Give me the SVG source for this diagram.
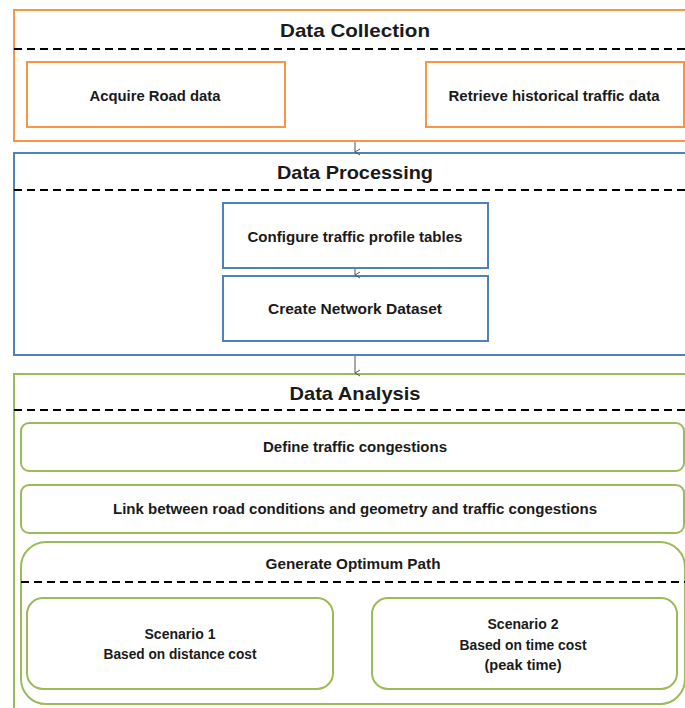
<svg xmlns="http://www.w3.org/2000/svg" width="685" height="708" viewBox="0 0 685 708">
<style>
text{font-family:"Liberation Sans",Arial,sans-serif;font-weight:bold;fill:#1a1a1a;text-anchor:middle}
.t{font-size:19px}
.s{font-size:14px}
.or{fill:#fff;stroke:#F79646;stroke-width:2}
.bl{fill:#fff;stroke:#4F81BD;stroke-width:2}
.gr{fill:#fff;stroke:#9BBB59;stroke-width:2}
.dash{stroke:#000;stroke-width:2;stroke-dasharray:8 5;fill:none}
.arr{stroke:#555;stroke-width:1;fill:none}
</style>
<defs>
<marker id="ah" markerWidth="8" markerHeight="8" refX="4" refY="6" orient="auto" markerUnits="userSpaceOnUse">
<path d="M1,1 L4,6 L7,1" fill="none" stroke="#555" stroke-width="1"/>
</marker>
</defs>
<rect width="685" height="708" fill="#fff"/>
<g id="data-collection">
<rect class="or" x="14" y="10" width="690" height="131"/>
<text class="t" x="355" y="37" textLength="150" lengthAdjust="spacingAndGlyphs">Data Collection</text>
<line class="dash" x1="14" y1="49" x2="685" y2="49"/>
</g>
<g id="acquire">
<rect class="or" x="27" y="62" width="258" height="65"/>
<text class="s" x="155" y="101" textLength="131" lengthAdjust="spacingAndGlyphs">Acquire Road data</text>
</g>
<g id="retrieve">
<rect class="or" x="426" y="62" width="258" height="65"/>
<text class="s" x="554" y="101" textLength="211" lengthAdjust="spacingAndGlyphs">Retrieve historical traffic data</text>
</g>
<g id="data-processing">
<rect class="bl" x="14" y="153" width="690" height="202"/>
<text class="t" x="355" y="179" textLength="156" lengthAdjust="spacingAndGlyphs">Data Processing</text>
<line class="dash" x1="14" y1="190" x2="685" y2="190"/>
</g>
<g id="configure">
<rect class="bl" x="223" y="203" width="265" height="65"/>
<text class="s" x="355" y="242" textLength="215" lengthAdjust="spacingAndGlyphs">Configure traffic profile tables</text>
</g>
<g id="create-network">
<rect class="bl" x="223" y="276" width="265" height="65"/>
<text class="s" x="355" y="314" textLength="174" lengthAdjust="spacingAndGlyphs">Create Network Dataset</text>
</g>
<g id="data-analysis">
<rect class="gr" x="14" y="374" width="690" height="350"/>
<text class="t" x="355" y="400" textLength="131" lengthAdjust="spacingAndGlyphs">Data Analysis</text>
<line class="dash" x1="14" y1="410" x2="685" y2="410"/>
</g>
<g id="define">
<rect class="gr" x="21" y="423" width="663" height="48" rx="8"/>
<text class="s" x="355" y="452" textLength="184" lengthAdjust="spacingAndGlyphs">Define traffic congestions</text>
</g>
<g id="link">
<rect class="gr" x="21" y="485" width="663" height="48" rx="8"/>
<text class="s" x="355" y="514" textLength="484" lengthAdjust="spacingAndGlyphs">Link between road conditions and geometry and traffic congestions</text>
</g>
<g id="generate">
<rect class="gr" x="21" y="542" width="664" height="162" rx="25"/>
<text class="s" x="353" y="569" textLength="175" lengthAdjust="spacingAndGlyphs">Generate Optimum Path</text>
<line class="dash" x1="21" y1="582" x2="685" y2="582"/>
</g>
<g id="scenario1">
<rect class="gr" x="27" y="598" width="306" height="91" rx="16"/>
<text class="s" x="180" y="639" textLength="71" lengthAdjust="spacingAndGlyphs">Scenario 1</text>
<text class="s" x="180" y="659" textLength="153" lengthAdjust="spacingAndGlyphs">Based on distance cost</text>
</g>
<g id="scenario2">
<rect class="gr" x="372" y="598" width="305" height="91" rx="16"/>
<text class="s" x="523" y="629" textLength="71" lengthAdjust="spacingAndGlyphs">Scenario 2</text>
<text class="s" x="523" y="650" textLength="127" lengthAdjust="spacingAndGlyphs">Based on time cost</text>
<text class="s" x="523" y="670" textLength="77" lengthAdjust="spacingAndGlyphs">(peak time)</text>
</g>
<g id="connectors">
<line class="arr" x1="355" y1="142" x2="355" y2="152" marker-end="url(#ah)"/>
<line class="arr" x1="355" y1="269" x2="355" y2="275" marker-end="url(#ah)"/>
<line class="arr" x1="355" y1="356" x2="355" y2="373" marker-end="url(#ah)"/>
</g>
</svg>
